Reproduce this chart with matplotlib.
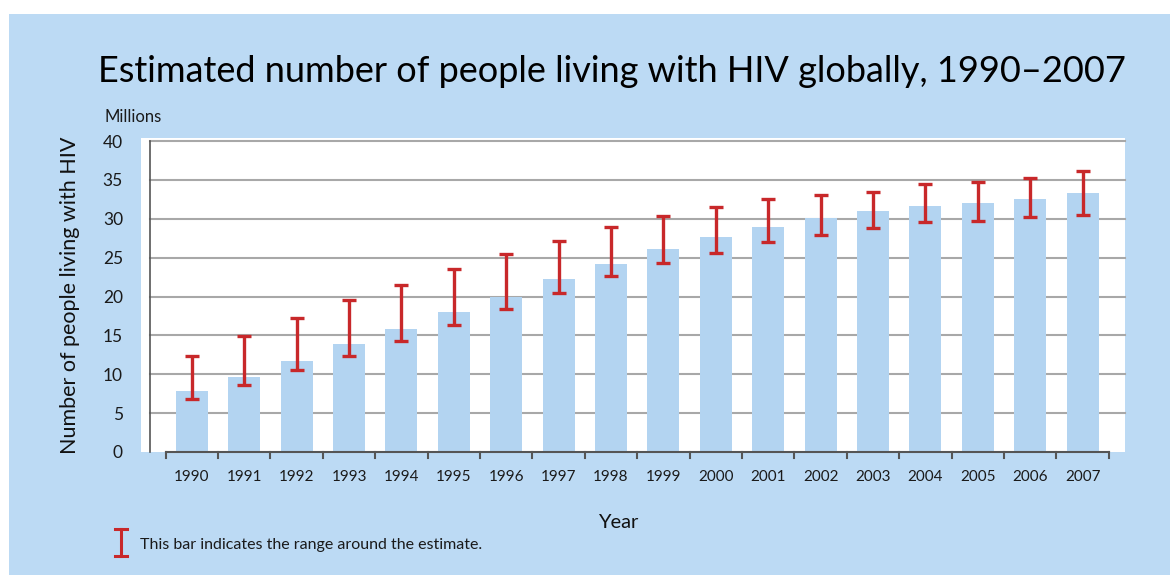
import numpy as np
import matplotlib.pyplot as plt
from matplotlib.lines import Line2D
from matplotlib.patches import Rectangle

years = ['1990', '1991', '1992', '1993', '1994', '1995', '1996', '1997', '1998',
         '1999', '2000', '2001', '2002', '2003', '2004', '2005', '2006', '2007']
estimate = [7.8, 9.6, 11.7, 13.9, 15.8, 18.0, 20.0, 22.2, 24.2,
            26.1, 27.6, 28.9, 30.1, 31.0, 31.6, 32.1, 32.6, 33.3]
low = [6.8, 8.6, 10.5, 12.3, 14.3, 16.3, 18.4, 20.4, 22.6,
       24.3, 25.6, 27.0, 27.9, 28.8, 29.6, 29.7, 30.2, 30.5]
high = [12.3, 14.9, 17.2, 19.5, 21.5, 23.5, 25.5, 27.2, 29.0,
        30.4, 31.5, 32.5, 33.1, 33.5, 34.5, 34.7, 35.3, 36.2]
yticks = [0, 5, 10, 15, 20, 25, 30, 35, 40]

W, H = 1170, 575
bg = '#bcdaf4'
bar_col = '#b3d4f1'
red = '#c8282a'
axis_col = '#555555'
grid_col = '#a8a8a8'

plt.rcParams['font.family'] = ['Lato', 'DejaVu Sans']

fig = plt.figure(figsize=(W / 100, H / 100), dpi=100)
fig.patch.set_facecolor('white')


def fx(x):
    return x / W


def fy(y):
    return 1 - y / H


fig.add_artist(Rectangle((fx(9), 0), 1 - fx(9), fy(14), transform=fig.transFigure,
                         facecolor=bg, edgecolor='none', zorder=0))

# white plot panel, 141..1125 x 138..452 px
ax = fig.add_axes([fx(141), fy(452), fx(1125) - fx(141), (452 - 138) / H])
ax.set_facecolor('white')
for s in ax.spines.values():
    s.set_visible(False)

x = np.arange(len(years))
ax.set_xlim(-0.971, 17.81)
ax.set_ylim(0, 40.4)

for v in yticks[1:]:
    ax.plot([-0.8, 17.81], [v, v], color=grid_col, lw=1.5, zorder=1, clip_on=False)

ax.bar(x, estimate, width=0.61, color=bar_col, zorder=2)
yerr = [np.array(estimate) - np.array(low), np.array(high) - np.array(estimate)]
ax.errorbar(x, estimate, yerr=yerr, fmt='none', ecolor=red, elinewidth=2.4,
            capsize=5, capthick=2.4, zorder=3)

# axis lines
ax.plot([-0.8, -0.8], [0, 40], color=axis_col, lw=1.2, zorder=4, clip_on=False)
ax.plot([-0.5, 17.5], [0, 0], color=axis_col, lw=1.5, zorder=4, clip_on=False)
for b in np.arange(-0.5, 18.0, 1.0):
    ax.plot([b, b], [0, -0.75], color=axis_col, lw=1.5, clip_on=False, zorder=4)

ax.set_xticks(x)
ax.set_xticklabels(years, fontsize=11)
ax.tick_params(axis='x', length=0, pad=13, colors='#1a1a1a')
ax.set_yticks(yticks)
ax.set_yticklabels([str(v) for v in yticks], fontsize=12.5)
ax.tick_params(axis='y', length=0, pad=13, colors='#1a1a1a')

fig.text(fx(98), fy(72), 'Estimated number of people living with HIV globally, 1990\u20132007',
         fontsize=26, ha='left', va='center', color='black')
fig.text(fx(104), fy(117), 'Millions', fontsize=12, ha='left', va='center', color='#1a1a1a')
fig.text(fx(70), fy(295), 'Number of people living with HIV', fontsize=15.5,
         rotation=90, ha='center', va='center', color='#111111')
fig.text(fx(618), fy(523), 'Year', fontsize=14.5, ha='center', va='center', color='#111111')

# legend symbol
lx = fx(121)
fig.add_artist(Line2D([lx, lx], [fy(529), fy(556)], transform=fig.transFigure,
                      color=red, lw=2.2))
for yy in (529, 556):
    fig.add_artist(Line2D([fx(115), fx(127)], [fy(yy), fy(yy)], transform=fig.transFigure,
                          color=red, lw=2.2))
fig.text(fx(140), fy(545), 'This bar indicates the range around the estimate.',
         fontsize=11.5, ha='left', va='center', color='#1a1a1a')

fig.savefig('out.png', dpi=100, facecolor=fig.get_facecolor())
